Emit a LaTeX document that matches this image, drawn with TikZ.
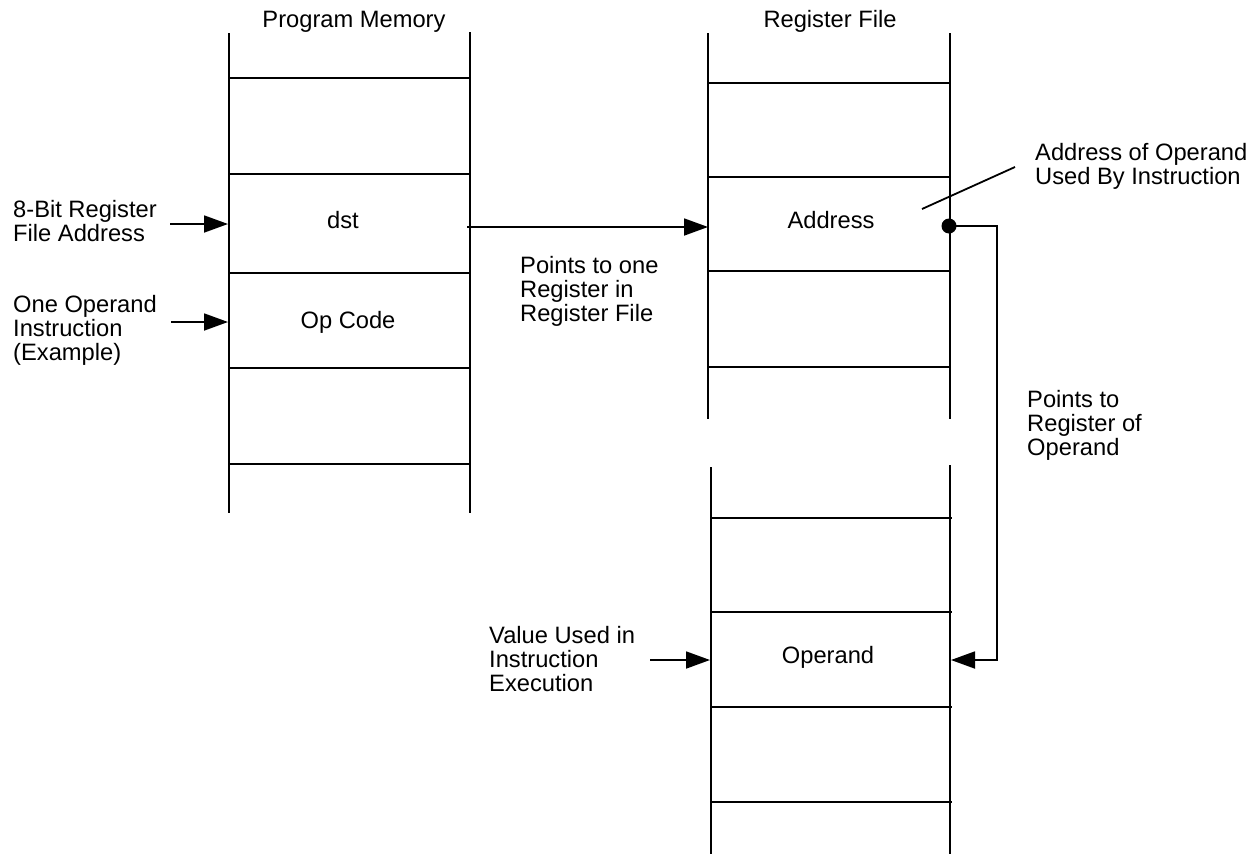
\documentclass[tikz,border=0pt]{standalone}
\usepackage{fontspec}
\setmainfont{Liberation Sans}
\usetikzlibrary{arrows.meta}
\begin{document}
\begin{tikzpicture}[x=1pt,y=-1pt,
  mem/.style={line width=1.8pt},
  arr/.style={line width=1.8pt,-{Triangle[length=24pt,width=17pt]}},
  lbl/.style={font=\fontsize{23.7}{24}\selectfont, inner sep=0pt},
  ml/.style={lbl, align=left, anchor=base west},
  cell/.style={lbl, anchor=base}]
\useasboundingbox (0,0) rectangle (1260,854);
% Program Memory column
\draw[mem] (229,33) -- (229,513) (470,32) -- (470,513);
\foreach \y in {78,174,273,368,464} \draw[mem] (229,\y) -- (470,\y);
% Register File (upper part)
\draw[mem] (708,33) -- (708,419) (950,33) -- (950,419);
\foreach \y in {83,177,271,367} \draw[mem] (708,\y) -- (950,\y);
% Register File (lower part)
\draw[mem] (711,467) -- (711,854) (950,465) -- (950,854);
\foreach \y in {518,612,707,802} \draw[mem] (711,\y) -- (952,\y);
% titles
\node[cell] (pmt) at (354,27) {Program Memory};
\node[cell] (rft) at (830,27) {Register File};
% cell texts
\node[cell] (dst) at (343,228) {dst};
\node[cell] (opc) at (348,328) {Op Code};
\node[cell] (addr) at (831,228) {Address};
\node[cell] (opnd) at (828,663) {Operand};
% labels (anchor = baseline of the last line)
\node[ml] (l8) at (13,241) {8-Bit Register\\File Address};
\node[ml] (l1) at (13,360) {One Operand\\Instruction\\(Example)};
\node[ml] (lp) at (520,321) {Points to one\\Register in\\Register File};
\node[ml] (la) at (1035,184) {Address of Operand\\Used By Instruction};
\node[ml] (lr) at (1027,455) {Points to\\Register of\\Operand};
\node[ml] (lv) at (489,691) {Value Used in\\Instruction\\Execution};
% connector coordinates
\coordinate (a8s) at (170,224);
\coordinate (a8e) at (228,224);
\coordinate (a1s) at (171,322);
\coordinate (a1e) at (228,322);
\coordinate (ds) at (467,227);
\coordinate (de) at (708,227);
\coordinate (dot) at (949,226);
\coordinate (bend) at (997,660);
\coordinate (ope) at (951,660);
\coordinate (avs) at (650,660);
\coordinate (ave) at (710,660);
\coordinate (ls) at (922,209);
\coordinate (le) at (1015,167);
% connectors
\draw[arr] (a8s) -- (a8e);
\draw[arr] (a1s) -- (a1e);
\draw[arr] (ds) -- (de);
\draw[arr] (avs) -- (ave);
\draw[mem] (ls) -- (le);
\draw[arr] (dot) -| (bend) -- (ope);
\fill (dot) circle (7.5pt);
\end{tikzpicture}
\end{document}
